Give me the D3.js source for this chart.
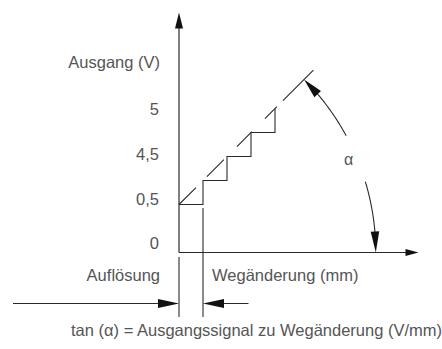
<!DOCTYPE html>
<html>
<head>
<meta charset="utf-8">
<script src="https://cdn.jsdelivr.net/npm/d3@7.9.0/dist/d3.min.js"></script>
<style>
  body { margin: 0; background: #fff; }
  text { font-family: "Liberation Sans", Arial, sans-serif; fill: #555; }
</style>
</head>
<body>
<div id="chart"></div>
<script>
// Stufen der Kennlinie (Weg in Auflösungsschritten, Ausgang in Stufen)
const wegSchritte = [0, 1, 2, 3, 4];
const ausgangStufen = [2, 3, 4, 5, 6];
// ideale Kennlinie (gestrichelt)
const idealWeg = [0, 5.6];
const idealAusgang = [2, 7.6];
// Achsenbeschriftung
const yTickLabels = ["0", "0,5", "4,5", "5"];
const yTitle = "Ausgang (V)";
const xTitle = "Wegänderung (mm)";
const resTitle = "Auflösung";
const caption = "tan (α) = Ausgangssignal zu Wegänderung (V/mm)";

const width = 442, height = 349;
const lineColor = "#2a2a2a";

const svg = d3.select("#chart").append("svg")
    .attr("width", width)
    .attr("height", height);

// Skalen (schematisch, 1 Schritt = 24 px)
const x = d3.scaleLinear().domain([0, 10]).range([179, 419]);
const y = d3.scaleLinear().domain([0, 6]).range([252.5, 108.5]);
const yLab = d3.scalePoint().domain(yTickLabels).range([243.5, 109.5]);

// filled triangle arrow head, tip at (tx,ty), pointing in direction ang (radians, screen coords)
function arrowHead(tx, ty, ang, len, w) {
    const bx = tx - len * Math.cos(ang), by = ty - len * Math.sin(ang);
    const nx = -Math.sin(ang) * w / 2, ny = Math.cos(ang) * w / 2;
    svg.append("path")
        .attr("d", `M${tx},${ty}L${bx + nx},${by + ny}L${bx - nx},${by - ny}Z`)
        .attr("fill", "#111");
}

// Achsen
svg.append("line")
    .attr("x1", x(0)).attr("y1", y(0))
    .attr("x2", x(0)).attr("y2", 20)
    .attr("stroke", lineColor).attr("stroke-width", 1.2);
arrowHead(x(0), 12.5, -Math.PI / 2, 16, 8);

svg.append("line")
    .attr("x1", x(0)).attr("y1", y(0))
    .attr("x2", 410).attr("y2", y(0))
    .attr("stroke", lineColor).attr("stroke-width", 1.2);
arrowHead(418.5, y(0), 0, 13, 7);

// y tick labels
svg.append("g")
    .attr("transform", `translate(${x(0)},0)`)
    .call(d3.axisLeft(yLab).tickSize(0).tickPadding(20))
    .call(g => g.select(".domain").remove())
    .call(g => g.selectAll("text")
        .attr("font-size", "16.5px")
        .attr("fill", "#555")
        .attr("font-family", "Liberation Sans, Arial, sans-serif"));

svg.append("text")
    .attr("x", 160).attr("y", 68)
    .attr("text-anchor", "end")
    .attr("font-size", "16.5px")
    .text(yTitle);

// ideale Kennlinie, gestrichelt
svg.append("line")
    .attr("x1", x(idealWeg[0])).attr("y1", y(idealAusgang[0]))
    .attr("x2", x(idealWeg[1])).attr("y2", y(idealAusgang[1]))
    .attr("stroke", lineColor).attr("stroke-width", 1.1)
    .attr("stroke-dasharray", "24,15.5,24,18.5,21,18.5,17,8.5,45");

// Treppenkurve
const stepData = wegSchritte.map((w, i) => [w, ausgangStufen[i]]);
svg.append("path")
    .attr("d", d3.line().x(d => x(d[0])).y(d => y(d[1])).curve(d3.curveStepAfter)(stepData))
    .attr("fill", "none")
    .attr("stroke", lineColor).attr("stroke-width", 1.1);

// Winkel alpha: Mittelpunkt dort, wo die Kennlinie die x-Achse schneidet
const cx = x(idealWeg[0] - idealAusgang[0]);
const cy = y(0);
const r = x(8.2) - cx;
function arcPart(a0, a1) {
    const angs = d3.range(a0, a1 + 0.001, (a1 - a0) / 30);
    const pts = angs.map(a => [cx + r * Math.cos(a * Math.PI / 180), cy - r * Math.sin(a * Math.PI / 180)]);
    svg.append("path")
        .attr("d", d3.line()(pts))
        .attr("fill", "none")
        .attr("stroke", lineColor).attr("stroke-width", 1.1);
}
arcPart(3, 16.8);
arcPart(28.5, 42);
// Pfeilspitzen am Bogen
const a45 = 45 * Math.PI / 180;
arrowHead(cx + r * Math.cos(a45), cy - r * Math.sin(a45), -3 * Math.PI / 4 + 0.04, 20, 9);
arrowHead(cx + r, cy, Math.PI / 2 - 0.04, 21, 8.5);

svg.append("text")
    .attr("x", 348.5).attr("y", 165)
    .attr("text-anchor", "middle")
    .attr("font-size", "16px")
    .text("α");

// Auflösung: Hilfslinien und Bemaßung
const resY = 303.5;
svg.append("line")
    .attr("x1", x(0)).attr("y1", 257).attr("x2", x(0)).attr("y2", 317)
    .attr("stroke", lineColor).attr("stroke-width", 1.1);
svg.append("line")
    .attr("x1", x(1)).attr("y1", y(2) + 3.5).attr("x2", x(1)).attr("y2", 317)
    .attr("stroke", lineColor).attr("stroke-width", 1.1);
svg.append("line")
    .attr("x1", 13).attr("y1", resY).attr("x2", x(0) - 10).attr("y2", resY)
    .attr("stroke", lineColor).attr("stroke-width", 1.1);
svg.append("line")
    .attr("x1", x(1) + 10).attr("y1", resY).attr("x2", 248.5).attr("y2", resY)
    .attr("stroke", lineColor).attr("stroke-width", 1.1);
arrowHead(x(0), resY, 0, 21, 9);
arrowHead(x(1), resY, Math.PI, 21, 9);

svg.append("text")
    .attr("x", 160).attr("y", 281)
    .attr("text-anchor", "end")
    .attr("font-size", "16.5px")
    .text(resTitle);

svg.append("text")
    .attr("x", 212).attr("y", 281)
    .attr("font-size", "16.5px")
    .text(xTitle);

svg.append("text")
    .attr("x", 71).attr("y", 336)
    .attr("font-size", "16.5px")
    .text(caption);
</script>
</body>
</html>
